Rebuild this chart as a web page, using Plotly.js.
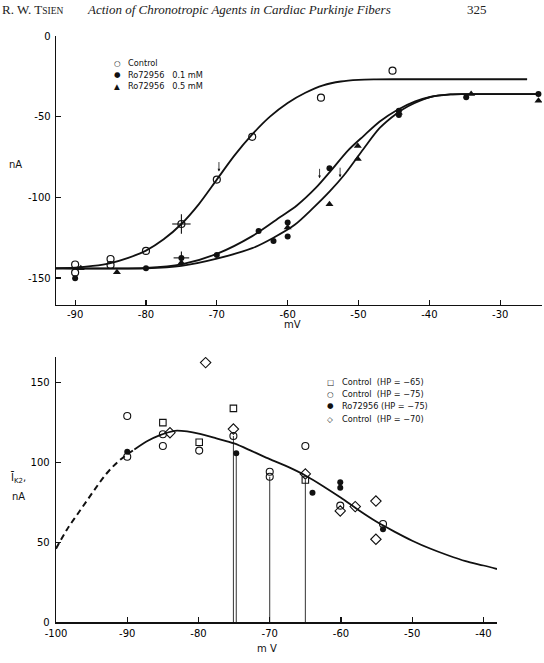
<!DOCTYPE html>
<html>
<head>
<meta charset="utf-8">
<script src="https://cdn.plot.ly/plotly-3.0.1.min.js"></script>
<style>
  html, body { margin: 0; padding: 0; background: #fff; }
  #chart { width: 544px; height: 663px; }
</style>
</head>
<body>
<div id="chart"></div>
<script>
// ---------- Upper panel: steady-state current vs. membrane potential ----------
const ctrlV = [-90, -90, -85, -85, -80, -75, -70, -65, -55.3, -45.2];
const ctrlI = [-141.6, -146.6, -138.2, -141.9, -133.2, -116.5, -89, -62.5, -38.2, -21.5];
const ctrlErrI = [0, 0, 0, 0, 0, 6, 0, 0, 0, 0];
const ctrlErrV = [0, 0, 0, 0, 0, 1.3, 0, 0, 0, 0];

const ro01V = [-90, -80, -75, -70, -64.1, -62, -60, -60, -54.1, -44.3, -44.3, -34.8, -24.6];
const ro01I = [-150.2, -143.9, -137.5, -135.7, -120.8, -127, -124.3, -115.5, -82, -46.3, -49, -38, -36];
const ro01ErrI = [0, 0, 4, 0, 0, 0, 0, 0, 0, 0, 0, 0, 0];
const ro01ErrV = [0, 0, 1.1, 0, 0, 0, 0, 0, 0, 0, 0, 0, 0];

const ro05V = [-89.2, -84.1, -75, -60, -54.1, -50.1, -50.1, -44.3, -34.1, -24.6];
const ro05I = [-143.9, -146.4, -140.5, -118.6, -104.3, -68.2, -76.2, -47.5, -36, -40.1];

// fitted activation curves
const ctrlFitV = [-92.7, -90, -87.5, -85, -82.5, -80, -77.5, -75, -72.5, -70, -67.5, -65, -62.5, -60, -57.5, -55, -52.5, -50, -47.5, -45, -26.2];
const ctrlFitI = [-144, -143.6, -142.5, -140.7, -137.5, -133, -126, -116.5, -104, -89, -74, -61, -50, -41.5, -35.2, -30.6, -28.2, -27.2, -26.9, -26.8, -26.8];

const ro01FitV = [-92.7, -85, -80, -75, -70, -65, -61, -58.7, -56, -54, -51.5, -49.3, -47, -44.6, -42, -39.9, -37, -35, -24.6];
const ro01FitI = [-144, -144, -143.7, -141.5, -135, -124, -112, -105, -94, -84, -71, -62, -53, -46, -40.5, -37.8, -36.2, -36, -36];

const ro05FitV = [-92.7, -80, -75, -70, -65, -62, -59, -56.5, -54, -52, -49.3, -47, -44.6, -43, -40, -37, -35, -24.6];
const ro05FitI = [-144, -144, -142.5, -138, -131.5, -125, -117, -107, -96, -86, -70, -57, -48, -43.5, -38, -36.2, -36, -36];

// half-activation markers (arrow tips)
const halfV = [-69.7, -55.5, -52.6];
const halfI = [-84, -88.2, -87.5];

const topXTicks = [-90, -80, -70, -60, -50, -40, -30];
const topXLabels = ['-90', '-80', '-70', '-60', '-50', '-40', '-30'];
const topYTicks = [0, -50, -100, -150];
const topYLabels = ['0', '-50', '-100', '-150'];

// ---------- Lower panel: fully activated current vs. membrane potential ----------
const hp65V = [-85, -79.9, -75.1, -65];
const hp65I = [124.8, 112.5, 133.7, 88.9];

const hp75V = [-90, -90, -85, -85, -79.9, -75.1, -70, -70, -65, -60.1, -54.1];
const hp75I = [128.9, 103.5, 117.5, 110.2, 107.3, 116.4, 94.1, 91, 110.2, 72.9, 61.4];

const roHp75V = [-90, -74.7, -64, -60.1, -60.1, -54.1];
const roHp75I = [106.6, 105.6, 81, 87.5, 84.1, 58.1];

const hp70V = [-84, -79, -75.1, -65, -60.1, -58, -55.1, -55.1];
const hp70I = [118.5, 162.3, 120.8, 92.7, 69.6, 72.3, 75.8, 51.9];

// vertical drop lines from selected points to the voltage axis
const dropV = [-75.1, -74.7, -70, -65];
const dropTop = [116.4, 105.6, 91, 88.9];

// fitted curve: dashed extrapolation, then solid
const fitDashV = [-100, -98.5, -96.6, -94.8, -92.9, -91, -89];
const fitDashI = [46, 57.7, 70, 81.5, 93, 101.5, 108];
const fitSolidV = [-89, -87.3, -85.4, -83.3, -81.6, -79.8, -77.5, -75, -72.5, -70, -67.5, -65, -62.5, -60, -57.5, -55, -52.5, -50, -47.5, -45, -42.5, -40, -38.1];
const fitSolidI = [108, 113, 117, 119.7, 119.3, 117.8, 115, 111.8, 107, 102, 97.3, 91.8, 85.1, 77.8, 70, 62.8, 56.7, 51, 46.1, 41.9, 38.2, 35.5, 33.3];

const botXTicks = [-100, -90, -80, -70, -60, -50, -40];
const botXLabels = ['-100', '-90', '-80', '-70', '-60', '-50', '-40'];
const botYTicks = [0, 50, 100, 150];
const botYLabels = ['0', '50', '100', '150'];

// ---------- styling ----------
const INK = '#111';
const FONT = 'DejaVu Sans, Liberation Sans, sans-serif';
const W = 544, H = 663;
const px = v => v / W;          // horizontal paper fraction
const py = v => 1 - v / H;      // vertical paper fraction (from top)

function errArr(a) {
  return { type: 'data', symmetric: true, array: a, visible: true, color: INK, thickness: 1.1, width: 0 };
}

const traces = [];

// upper panel curves
[[ctrlFitV, ctrlFitI], [ro01FitV, ro01FitI], [ro05FitV, ro05FitI]].forEach(([x, y]) => {
  traces.push({ x, y, xaxis: 'x', yaxis: 'y', mode: 'lines', line: { color: INK, width: 1.8, shape: 'spline', smoothing: 0.8 }, hoverinfo: 'skip' });
});
traces.push({ x: ctrlV, y: ctrlI, xaxis: 'x', yaxis: 'y', mode: 'markers', name: 'Control',
  marker: { symbol: 'circle-open', size: 7, color: INK, line: { width: 1.2, color: INK } },
  error_y: errArr(ctrlErrI), error_x: errArr(ctrlErrV) });
traces.push({ x: ro01V, y: ro01I, xaxis: 'x', yaxis: 'y', mode: 'markers', name: 'Ro72956 0.1 mM',
  marker: { symbol: 'circle', size: 6, color: INK },
  error_y: errArr(ro01ErrI), error_x: errArr(ro01ErrV) });
traces.push({ x: ro05V, y: ro05I, xaxis: 'x', yaxis: 'y', mode: 'markers', name: 'Ro72956 0.5 mM',
  marker: { symbol: 'triangle-up', size: 7, color: INK } });

// lower panel drop lines
const dx = [], dy = [];
dropV.forEach((v, i) => { dx.push(v, v, null); dy.push(dropTop[i], 0, null); });
traces.push({ x: dx, y: dy, xaxis: 'x2', yaxis: 'y2', mode: 'lines', line: { color: '#333', width: 1 }, hoverinfo: 'skip' });

// lower panel curve
traces.push({ x: fitDashV, y: fitDashI, xaxis: 'x2', yaxis: 'y2', mode: 'lines',
  line: { color: INK, width: 2, dash: '6px,4px', shape: 'spline' }, hoverinfo: 'skip' });
traces.push({ x: fitSolidV, y: fitSolidI, xaxis: 'x2', yaxis: 'y2', mode: 'lines',
  line: { color: INK, width: 1.8, shape: 'spline', smoothing: 0.8 }, hoverinfo: 'skip' });

traces.push({ x: hp65V, y: hp65I, xaxis: 'x2', yaxis: 'y2', mode: 'markers', name: 'Control (HP = -65)',
  marker: { symbol: 'square-open', size: 6.5, color: INK, line: { width: 1.1, color: INK } } });
traces.push({ x: hp75V, y: hp75I, xaxis: 'x2', yaxis: 'y2', mode: 'markers', name: 'Control (HP = -75)',
  marker: { symbol: 'circle-open', size: 7, color: INK, line: { width: 1.1, color: INK } } });
traces.push({ x: roHp75V, y: roHp75I, xaxis: 'x2', yaxis: 'y2', mode: 'markers', name: 'Ro72956 (HP = -75)',
  marker: { symbol: 'circle', size: 6, color: INK } });
traces.push({ x: hp70V, y: hp70I, xaxis: 'x2', yaxis: 'y2', mode: 'markers', name: 'Control (HP = -70)',
  marker: { symbol: 'diamond-open', size: 8, color: INK, line: { width: 1.1, color: INK } } });

const axisBase = {
  showline: true, linecolor: INK, linewidth: 1.3, mirror: false,
  ticks: 'inside', ticklen: 5, tickwidth: 1.2, tickcolor: INK,
  showgrid: false, zeroline: false, fixedrange: true,
  tickfont: { family: FONT, size: 10, color: '#000' }
};

const annotations = [];
function label(text, x, y, size, extra) {
  annotations.push(Object.assign({ text, x: px(x), y: py(y), xref: 'paper', yref: 'paper',
    showarrow: false, xanchor: 'center', yanchor: 'middle',
    font: { family: FONT, size: size, color: INK } }, extra || {}));
}

// axis titles
label('nA', 15, 164, 10);
label('mV', 292, 324, 10);
label('Ī<sub>K2</sub>,', 18, 478, 10);
label('nA', 18, 496, 10);
label('m\u00A0V', 267, 648, 10);

// legends (keys and labels)
const topKeys = ['○', '●', '▲'];
const topNames = ['Control', 'Ro72956\u00A0\u00A0\u00A00.1 mM', 'Ro72956\u00A0\u00A0\u00A00.5 mM'];
const topRows = [63.5, 74.5, 86.5];
topRows.forEach((r, i) => {
  label(topKeys[i], 117, r, 7.5);
  label(topNames[i], 126, r, 8.2, { xanchor: 'left' });
});
const botKeys = ['□', '○', '●', '◇'];
const botNames = ['Control\u00A0\u00A0(HP = −65)', 'Control\u00A0\u00A0(HP = −75)', 'Ro72956\u00A0(HP = −75)', 'Control\u00A0\u00A0(HP = −70)'];
const botRows = [382.5, 394, 405.5, 419];
botRows.forEach((r, i) => {
  label(botKeys[i], 330, r, 7.5);
  label(botNames[i], 340, r, 8.2, { xanchor: 'left' });
});

// running page header
const HEAD = { family: 'Liberation Serif, serif', size: 13, color: '#222' };
annotations.push({ text: 'R. W. T<span style="font-size:9.5px">SIEN</span>', x: 0, y: 1, xref: 'paper', yref: 'paper',
  showarrow: false, xanchor: 'left', yanchor: 'top', font: HEAD });
annotations.push({ text: '<i>Action of Chronotropic Agents in Cardiac Purkinje Fibers</i>', x: px(85), y: 1, xref: 'paper', yref: 'paper',
  showarrow: false, xanchor: 'left', yanchor: 'top', font: HEAD });
annotations.push({ text: '325', x: px(489), y: 1, xref: 'paper', yref: 'paper',
  showarrow: false, xanchor: 'right', yanchor: 'top', font: HEAD });

// half-activation arrows (thin downward arrows ending at the curves)
halfV.forEach((v, i) => {
  annotations.push({ x: v, y: halfI[i], xref: 'x', yref: 'y', text: '', showarrow: true,
    ax: 0, ay: -11, arrowhead: 2, arrowsize: 0.7, arrowwidth: 0.8, arrowcolor: INK });
});

const layout = {
  width: W, height: H,
  margin: { l: 0, r: 0, t: 0, b: 0 },
  paper_bgcolor: '#fff', plot_bgcolor: 'rgba(0,0,0,0)',
  showlegend: false,
  xaxis: Object.assign({}, axisBase, { domain: [px(56), px(542)], range: [-92.7, -24.1], anchor: 'y',
    tickvals: topXTicks, ticktext: topXLabels }),
  yaxis: Object.assign({}, axisBase, { domain: [py(305), py(36)], range: [-166.7, 0], anchor: 'x',
    tickvals: topYTicks, ticktext: topYLabels, ticklabelstandoff: 2 }),
  xaxis2: Object.assign({}, axisBase, { domain: [px(56), px(497)], range: [-100, -38.1], anchor: 'y2',
    tickvals: botXTicks, ticktext: botXLabels, ticklabelstandoff: 1 }),
  yaxis2: Object.assign({}, axisBase, { domain: [py(622.3), py(356.7)], range: [0, 166], anchor: 'x2',
    tickvals: botYTicks, ticktext: botYLabels, ticklabelstandoff: 3 }),
  annotations
};

Plotly.newPlot('chart', traces, layout, { staticPlot: true, displayModeBar: false });
</script>
</body>
</html>
